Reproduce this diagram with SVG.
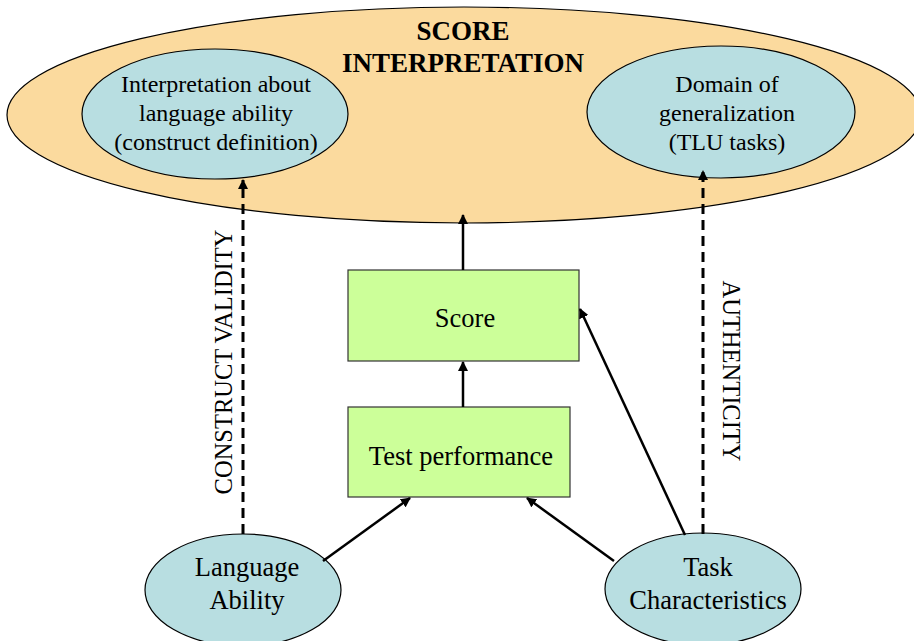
<svg xmlns="http://www.w3.org/2000/svg" width="914" height="641" viewBox="0 0 914 641">
<defs>
<marker id="ah" viewBox="0 0 10 10" refX="9" refY="5" markerWidth="10" markerHeight="10" markerUnits="userSpaceOnUse" orient="auto">
<path d="M0,0 L10,5 L0,10 z" fill="#000"/>
</marker>
<style>
.big{fill:#FBDA9E;stroke:#000;stroke-width:1.2}
.oval{fill:#B8DEE1;stroke:#000;stroke-width:1.2}
.box{fill:#CCFF99;stroke:#333;stroke-width:1.2}
.t{font-family:"Liberation Serif",serif;font-size:24px;fill:#000;text-anchor:middle}
.tl{font-family:"Liberation Serif",serif;font-size:26.5px;fill:#000;text-anchor:middle}
.tb{font-family:"Liberation Serif",serif;font-size:27px;font-weight:bold;fill:#000;text-anchor:middle}
.solid{stroke:#000;stroke-width:2.5;fill:none;marker-end:url(#ah)}
.dash{stroke:#000;stroke-width:3;fill:none;stroke-dasharray:10,6;marker-end:url(#ah)}
</style>
</defs>
<rect width="914" height="641" fill="#fff"/>
<g id="score-interpretation">
<ellipse class="big" cx="464" cy="115" rx="457" ry="108"/>
<text class="tb" x="463" y="40">SCORE</text>
<text class="tb" x="463" y="72">INTERPRETATION</text>
</g>
<g id="construct-definition">
<ellipse class="oval" cx="215" cy="114" rx="133" ry="65"/>
<text class="t" x="216" y="92">Interpretation about</text>
<text class="t" x="216" y="121">language ability</text>
<text class="t" x="216" y="150">(construct definition)</text>
</g>
<g id="domain">
<ellipse class="oval" cx="721" cy="112" rx="134" ry="66"/>
<text class="t" x="727" y="92">Domain of</text>
<text class="t" x="727" y="121">generalization</text>
<text class="t" x="727" y="150">(TLU tasks)</text>
</g>
<g id="score">
<rect class="box" x="348" y="270" width="231" height="91"/>
<text class="tl" x="465" y="327">Score</text>
</g>
<g id="test-performance">
<rect class="box" x="348" y="407" width="222" height="90"/>
<text class="tl" x="461" y="465">Test performance</text>
</g>
<g id="language-ability">
<ellipse class="oval" cx="243" cy="590" rx="98" ry="56"/>
<text class="tl" x="247" y="576">Language</text>
<text class="tl" x="247" y="609">Ability</text>
</g>
<g id="task-characteristics">
<ellipse class="oval" cx="703" cy="589" rx="98" ry="56"/>
<text class="tl" x="708" y="576">Task</text>
<text class="tl" x="708" y="609">Characteristics</text>
</g>
<g id="connectors">
<line class="solid" x1="463" y1="270" x2="463" y2="215"/>
<line class="solid" x1="463" y1="407" x2="463" y2="362"/>
<line class="solid" x1="323" y1="561" x2="410" y2="498"/>
<line class="solid" x1="614" y1="561" x2="527" y2="498"/>
<line class="solid" x1="685" y1="535" x2="580" y2="309"/>
<line class="dash" x1="243" y1="534" x2="243" y2="180"/>
<line class="dash" x1="703" y1="534" x2="703" y2="171"/>
<text class="t" transform="translate(232,362) rotate(-90)" style="font-size:24.5px">CONSTRUCT VALIDITY</text>
<text class="t" transform="translate(723,371) rotate(90)" style="font-size:24.5px">AUTHENTICITY</text>
</g>
</svg>
